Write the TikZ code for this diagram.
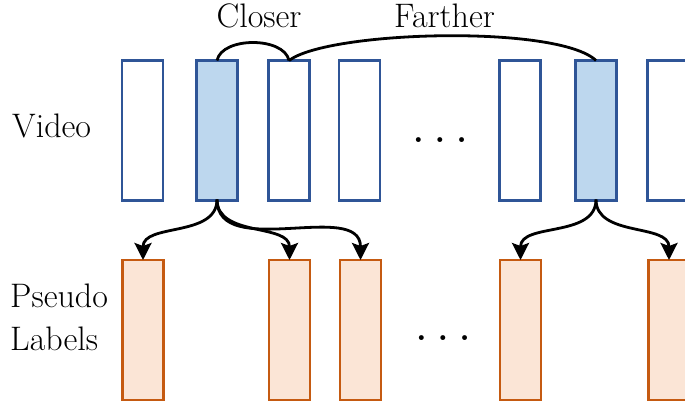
\documentclass[tikz,border=0pt]{standalone}
\usepackage{fontspec}
\usetikzlibrary{arrows.meta}
\definecolor{vidline}{HTML}{2F5597}
\definecolor{vidfill}{HTML}{BDD7EE}
\definecolor{pslline}{HTML}{C55A11}
\definecolor{pslfill}{HTML}{FBE5D6}
\begin{document}
\begin{tikzpicture}[x=1pt,y=-1pt,
  frame/.style={draw=vidline, line width=2.8pt, minimum width=41pt, minimum height=140pt, inner sep=0pt, outer sep=0pt},
  keyframe/.style={frame, fill=vidfill},
  pseudo/.style={draw=pslline, fill=pslfill, line width=2.8pt, minimum width=41pt, minimum height=140pt, inner sep=0pt, outer sep=0pt},
  lbl/.style={font=\fontsize{34}{43}\selectfont, inner sep=0pt},
  link/.style={line width=2.8pt, black},
  arr/.style={link, -{Stealth[length=17pt,width=17pt,inset=3pt]}, shorten <=-1pt}]
\useasboundingbox (0,0) rectangle (685,403);

% video frames
\node[frame]    (v1) at (142.5,130.5) {};
\node[keyframe] (v2) at (217,130.5) {};
\node[frame]    (v3) at (289,130.5) {};
\node[frame]    (v4) at (359.5,130.5) {};
\node[frame]    (v5) at (520,130.5) {};
\node[keyframe] (v6) at (596,130.5) {};
\node[frame]    (v7) at (668,130.5) {};

% pseudo labels
\node[pseudo] (p1) at (143,330) {};
\node[pseudo] (p3) at (289.5,330) {};
\node[pseudo] (p4) at (360.5,330) {};
\node[pseudo] (p5) at (520.5,330) {};
\node[pseudo] (p7) at (669,330) {};

% row labels
\node[lbl, anchor=base west] (video) at (12,138) {Video};
\node[lbl, anchor=base west, align=left] (plabel) at (10,350) {Pseudo\\Labels};

% ellipses
\node[lbl, anchor=base] (dotsv) at (440,143) {\textbf{.}\hspace{11pt}\textbf{.}\hspace{11pt}\textbf{.}};
\node[lbl, anchor=base] (dotsp) at (443,340) {\textbf{.}\hspace{11pt}\textbf{.}\hspace{11pt}\textbf{.}};

% distance labels
\node[lbl, anchor=base] (closer) at (259,28) {Closer};
\node[lbl, anchor=base] (farther) at (444.5,28) {Farther};

% distance arcs
\draw[link] (v2.north) .. controls +(5,-24) and +(-5,-24) .. (v3.north);
\draw[link] (v3.north) .. controls +(40,-30) and +(-38,-36) .. (v6.north);

% label propagation
\draw[arr] (v2.south) to[out=-90,in=90] (p1.north);
\draw[arr] (v2.south) to[out=-90,in=90] (p3.north);
\draw[arr] (v2.south) to[out=-90,in=90] (p4.north);
\draw[arr] (v6.south) to[out=-90,in=90] (p5.north);
\draw[arr] (v6.south) to[out=-90,in=90] (p7.north);
\end{tikzpicture}
\end{document}
